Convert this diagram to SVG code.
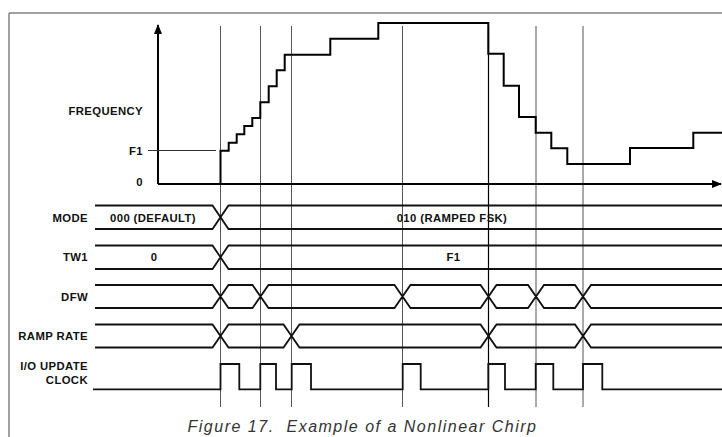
<svg xmlns="http://www.w3.org/2000/svg" width="722" height="437" viewBox="0 0 722 437">
<style>
.lbl{font-family:"Liberation Sans",Arial,sans-serif;font-weight:bold;font-size:11.3px;fill:#111;letter-spacing:0.4px}
.end{text-anchor:end}
.mid{text-anchor:middle}
.bus{fill:none;stroke:#111;stroke-width:1.8}
.grid{stroke:#555;stroke-width:1;fill:none}
.cap{font-family:"Liberation Sans",Arial,sans-serif;font-style:italic;font-size:16px;fill:#333;letter-spacing:1.5px;text-anchor:middle}
</style>
<defs>
<marker id="arr" markerWidth="10" markerHeight="10" refX="9" refY="5" orient="auto" markerUnits="userSpaceOnUse">
<path d="M0,1 L10,5 L0,9 Z" fill="#000"/>
</marker>
</defs>
<rect width="722" height="437" fill="#fff"/>
<path d="M9,437 V13 H722" fill="none" stroke="#444" stroke-width="1"/>

<g id="gridlines">
<path class="grid" d="M220.5,26 V407 M260.5,26 V407 M291.5,26 V407 M402.5,26 V407 M536,26 V407 M583,26 V407"/>
<path d="M488.5,26 V407" stroke="#000" stroke-width="1.2"/>
</g>

<g id="axes">
<path d="M158,184 V25" stroke="#000" stroke-width="2" marker-end="url(#arr)"/>
<path d="M158,184 H721" stroke="#000" stroke-width="2" marker-end="url(#arr)"/>
<path d="M148,150.5 H216" stroke="#333" stroke-width="1"/>
<text class="lbl end" x="143" y="114.5">FREQUENCY</text>
<text class="lbl end" x="143" y="154.5">F1</text>
<text class="lbl end" x="143" y="185.5">0</text>
</g>

<g id="frequency">
<path d="M220.5,184 V150.7 H228.7 V142.7 H236.7 V134.3 H244.3 V126 H252.3 V118 H260.3 V102.3 H268.7 V86.3 H276.7 V70.3 H284.7 V54.7 H330.3 V38.7 H378.3 V23 H488.3 V53.7 H503.7 V85.7 H519 V117 H535.7 V132.7 H551.3 V148.3 H567.3 V164 H630 V148 H693.3 V132.7 H722" fill="none" stroke="#000" stroke-width="2"/>
</g>

<g id="mode">
<text class="lbl end" x="88" y="221.7">MODE</text>
<path class="bus" d="M95,205.5 H212.5 L228.5,229 H722 M95,229 H212.5 L228.5,205.5 H722"/>
<text class="lbl mid" x="153" y="221.7">000 (DEFAULT)</text>
<text class="lbl mid" x="452" y="221.7">010 (RAMPED FSK)</text>
</g>

<g id="tw1">
<text class="lbl end" x="88" y="261">TW1</text>
<path class="bus" d="M95,245.5 H212.5 L228.5,269 H722 M95,269 H212.5 L228.5,245.5 H722"/>
<text class="lbl mid" x="154" y="261">0</text>
<text class="lbl mid" x="453.5" y="261">F1</text>
</g>

<g id="dfw">
<text class="lbl end" x="88" y="300.5">DFW</text>
<path class="bus" d="M95,285 H212.5 L228.5,308 H252.5 L268.5,285 H394.5 L410.5,308 H480.5 L496.5,285 H528 L544,308 H575 L591,285 H722 M95,308 H212.5 L228.5,285 H252.5 L268.5,308 H394.5 L410.5,285 H480.5 L496.5,308 H528 L544,285 H575 L591,308 H722"/>
</g>

<g id="ramprate">
<text class="lbl end" x="88" y="340">RAMP RATE</text>
<path class="bus" d="M95,324.5 H212.5 L228.5,347.5 H283.5 L299.5,324.5 H480.5 L496.5,347.5 H575 L591,324.5 H722 M95,347.5 H212.5 L228.5,324.5 H283.5 L299.5,347.5 H480.5 L496.5,324.5 H575 L591,347.5 H722"/>
</g>

<g id="ioupdate">
<text class="lbl end" x="88" y="369.5">I/O UPDATE</text>
<text class="lbl end" x="88" y="384">CLOCK</text>
<path class="bus" d="M93,389.3 H220.5 V364 H239.3 V389.3 H260.3 V364 H276 V389.3 H291.7 V364 H311 V389.3 H402.7 V364 H420.7 V389.3 H488.3 V364 H505 V389.3 H535.7 V364 H553.3 V389.3 H583 V364 H602.3 V389.3 H722"/>
</g>

<text class="cap" x="362.5" y="432">Figure 17.&#160; Example of a Nonlinear Chirp</text>
</svg>
